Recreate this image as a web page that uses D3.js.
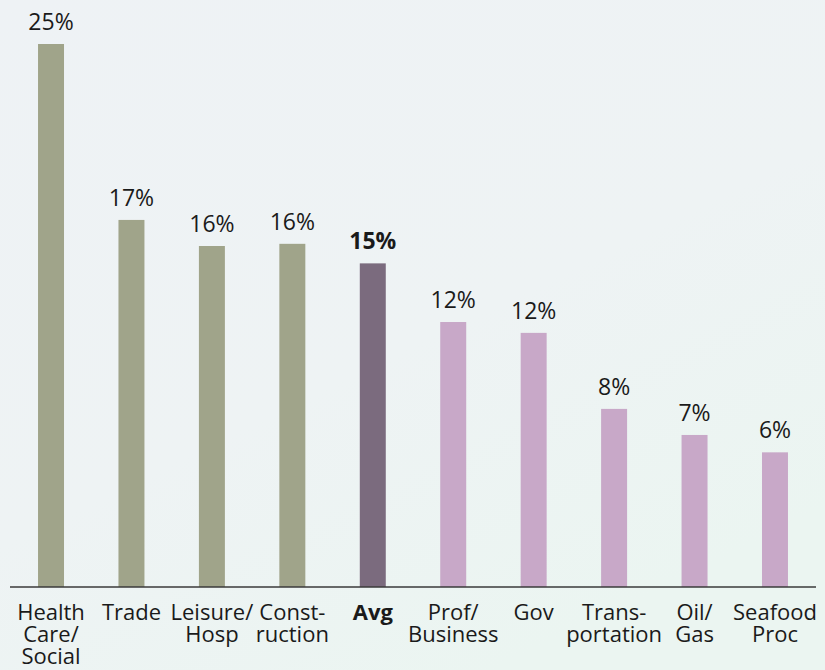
<!DOCTYPE html>
<html>
<head>
<meta charset="utf-8">
<script src="https://cdn.jsdelivr.net/npm/d3@7"></script>
<style>
  html, body { margin: 0; padding: 0; }
  body { width: 825px; height: 670px; overflow: hidden; }
</style>
</head>
<body>
<div id="wrapper"></div>
<script>
// data
const categories = ['Health Care/Social', 'Trade', 'Leisure/Hosp', 'Construction', 'Avg',
    'Prof/Business', 'Gov', 'Transportation', 'Oil/Gas', 'Seafood Proc']
const tickLabels = [
    ['Health', 'Care/', 'Social'],
    ['Trade'],
    ['Leisure/', 'Hosp'],
    ['Const-', 'ruction'],
    ['Avg'],
    ['Prof/', 'Business'],
    ['Gov'],
    ['Trans-', 'portation'],
    ['Oil/', 'Gas'],
    ['Seafood', 'Proc'],
]
const shares = [25.0, 16.9, 15.7, 15.8, 14.9, 12.2, 11.7, 8.2, 7.0, 6.2]
const groups = ['above', 'above', 'above', 'above', 'avg', 'below', 'below', 'below', 'below', 'below']

const drawBars = () => {
    const dimensions = {
        width: 825,
        height: 670,
        baseline: 587,
        left: 11,
        right: 815,
        top: 44,
    }

    const colors = {
        above: '#a0a48a',
        avg: '#7b6b7e',
        below: '#c8a8c8',
    }

    const data = categories.map((c, i) => ({
        category: c,
        lines: tickLabels[i],
        value: shares[i],
        group: groups[i],
    }))

    const wrapper = d3.select('#wrapper')
        .append('svg')
        .attr('width', dimensions.width)
        .attr('height', dimensions.height)
        .style('font-family', "'Open Sans', sans-serif")

    // soft background
    const defs = wrapper.append('defs')
    const grad = defs.append('linearGradient')
        .attr('id', 'bg')
        .attr('x1', 0).attr('y1', 0)
        .attr('x2', 0.6).attr('y2', 1)
    grad.append('stop').attr('offset', '0%').attr('stop-color', '#eef2f5')
    grad.append('stop').attr('offset', '60%').attr('stop-color', '#eef3f4')
    grad.append('stop').attr('offset', '100%').attr('stop-color', '#ebf5f1')

    wrapper.append('rect')
        .attr('width', dimensions.width)
        .attr('height', dimensions.height)
        .attr('fill', 'url(#bg)')

    const xScale = d3.scaleBand()
        .domain(categories)
        .range([dimensions.left, dimensions.right])
        .paddingInner(0.677)
        .paddingOuter(0.336)

    const yScale = d3.scaleLinear()
        .domain([0, 25])
        .range([dimensions.baseline, dimensions.top])

    const bounds = wrapper.append('g')

    const barGroups = bounds.selectAll('g.bar')
        .data(data)
        .join('g')
        .attr('class', 'bar')

    barGroups.append('rect')
        .attr('x', d => xScale(d.category))
        .attr('y', d => yScale(d.value))
        .attr('width', xScale.bandwidth())
        .attr('height', d => dimensions.baseline - yScale(d.value))
        .attr('fill', d => colors[d.group])

    const fmt = v => d3.format('.0f')(v) + '%'

    barGroups.append('text')
        .text(d => fmt(d.value))
        .attr('x', d => xScale(d.category) + xScale.bandwidth() / 2)
        .attr('y', d => yScale(d.value) - 14)
        .attr('fill', '#1a1a1a')
        .style('font-size', '23px')
        .style('font-weight', d => d.group === 'avg' ? 'bold' : 'normal')
        .style('text-anchor', 'middle')

    // x axis
    const xAxisGenerator = d3.axisBottom(xScale)
        .tickSize(0)
        .tickSizeOuter(0)
        .tickFormat('')
    const xAxis = bounds.append('g')
        .attr('transform', `translate(0, ${dimensions.baseline})`)
        .call(xAxisGenerator)
    xAxis.select('.domain')
        .attr('stroke', '#3a3a3a')
        .attr('stroke-width', 1.6)
        .attr('d', `M${dimensions.left - 1},0H${dimensions.right + 1}`)

    const labels = bounds.append('g')
        .selectAll('text')
        .data(data)
        .join('text')
        .attr('x', d => xScale(d.category) + xScale.bandwidth() / 2)
        .attr('y', dimensions.baseline + 33)
        .attr('fill', '#1a1a1a')
        .style('font-size', '22px')
        .style('font-weight', d => d.group === 'avg' ? 'bold' : 'normal')
        .style('text-anchor', 'middle')

    labels.selectAll('tspan')
        .data(d => d.lines)
        .join('tspan')
        .attr('x', function () { return d3.select(this.parentNode).attr('x') })
        .attr('dy', (d, i) => i === 0 ? 0 : 22)
        .text(d => d)
}
drawBars()
</script>
</body>
</html>
